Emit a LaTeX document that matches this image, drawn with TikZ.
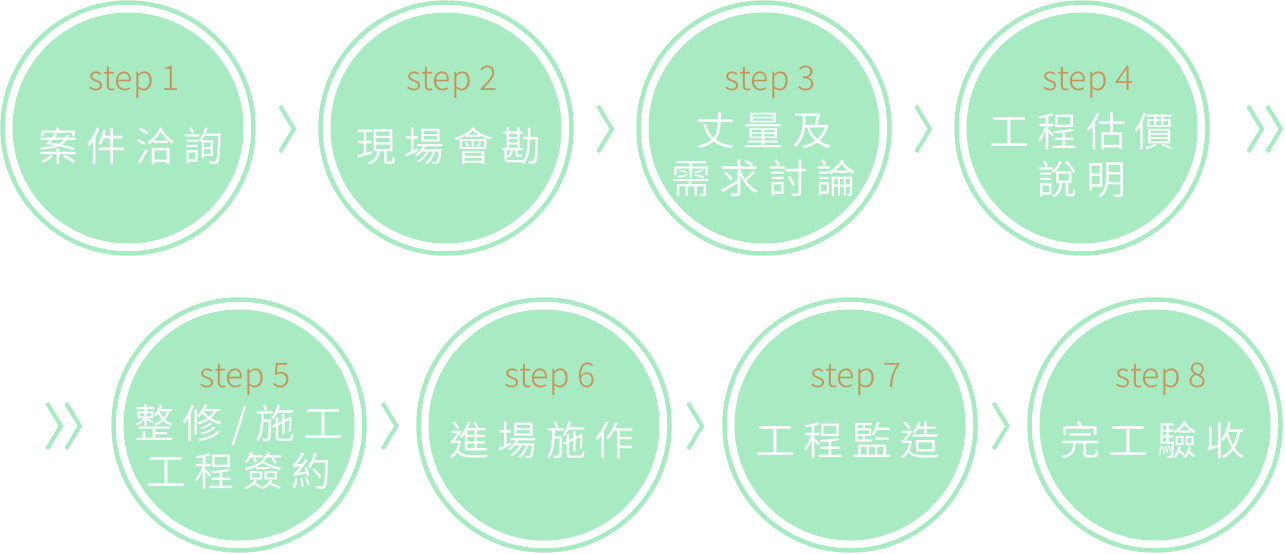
\documentclass[tikz,border=0pt]{standalone}
\usepackage{fontspec}
\newfontfamily\cjk[LetterSpace=21]{Noto Sans CJK TC DemiLight}
\newfontfamily\latn{Noto Sans CJK TC Light}
\usetikzlibrary{calc}
\definecolor{mint}{HTML}{A8EBC3}
\definecolor{stepbrown}{HTML}{C8935A}

\begin{document}
\begin{tikzpicture}[x=1pt, y=-1pt,
  disc/.style={circle, fill=mint, minimum size=231pt, inner sep=0pt},
  ring/.style={draw=mint, line width=4.5pt},
  steptext/.style={anchor=base, text=stepbrown, font=\latn\fontsize{34}{34}\selectfont},
  tasktext/.style={anchor=center, text=white, align=center, inner sep=0pt, font=\cjk\fontsize{40}{48}\selectfont},
  chev/.pic={\draw[mint, line width=4pt, miter limit=10] (-7,-23) -- (7,0) -- (-7,23);}]
  \useasboundingbox (0,0) rectangle (1285,554);

  % discs, top row and bottom row
  \foreach \i/\x in {1/128, 2/446, 3/764, 4/1082}
    \node[disc] (c\i) at (\x,128) {};
  \foreach \i/\x in {5/239, 6/544, 7/850, 8/1155}
    \node[disc] (c\i) at (\x,425) {};

  % outer rings
  \foreach \i in {1,...,8}
    \draw[ring] (c\i) circle[radius=125.5pt];

  % step numbers
  \foreach \i in {1,...,8}
    \node[steptext] (s\i) at ($(c\i)+(6,-38)$) {step \i};

  % tasks
  \node[tasktext] (t1) at ($(c1)+(3,18)$) {案件洽詢};
  \node[tasktext] (t2) at ($(c2)+(3,18)$) {現場會勘};
  \node[tasktext] (t3) at ($(c3)+(0,27)$) {丈量及\\需求討論};
  \node[tasktext] (t4) at ($(c4)+(0,27)$) {工程估價\\說明};
  \node[tasktext] (t5) at ($(c5)+(0,22)$) {整修/施工\\工程簽約};
  \node[tasktext] (t6) at ($(c6)+(-2,15)$) {進場施作};
  \node[tasktext] (t7) at ($(c7)+(-2,15)$) {工程監造};
  \node[tasktext] (t8) at ($(c8)+(-2,15)$) {完工驗收};

  % chevrons between the discs
  \pic at ($(c1)!0.5!(c2)+(0,1)$) {chev};
  \pic at ($(c2)!0.5!(c3)+(0,1)$) {chev};
  \pic at ($(c3)!0.5!(c4)+(0,1)$) {chev};
  \pic at ($(c4)+(173,1)$) {chev};
  \pic at ($(c4)+(192,1)$) {chev};
  \pic at ($(c5)+(-185,1)$) {chev};
  \pic at ($(c5)+(-166,1)$) {chev};
  \pic at ($(c5)!0.5!(c6)+(-2,1)$) {chev};
  \pic at ($(c6)!0.5!(c7)+(-2,1)$) {chev};
  \pic at ($(c7)!0.5!(c8)+(-2,1)$) {chev};
\end{tikzpicture}
\end{document}
